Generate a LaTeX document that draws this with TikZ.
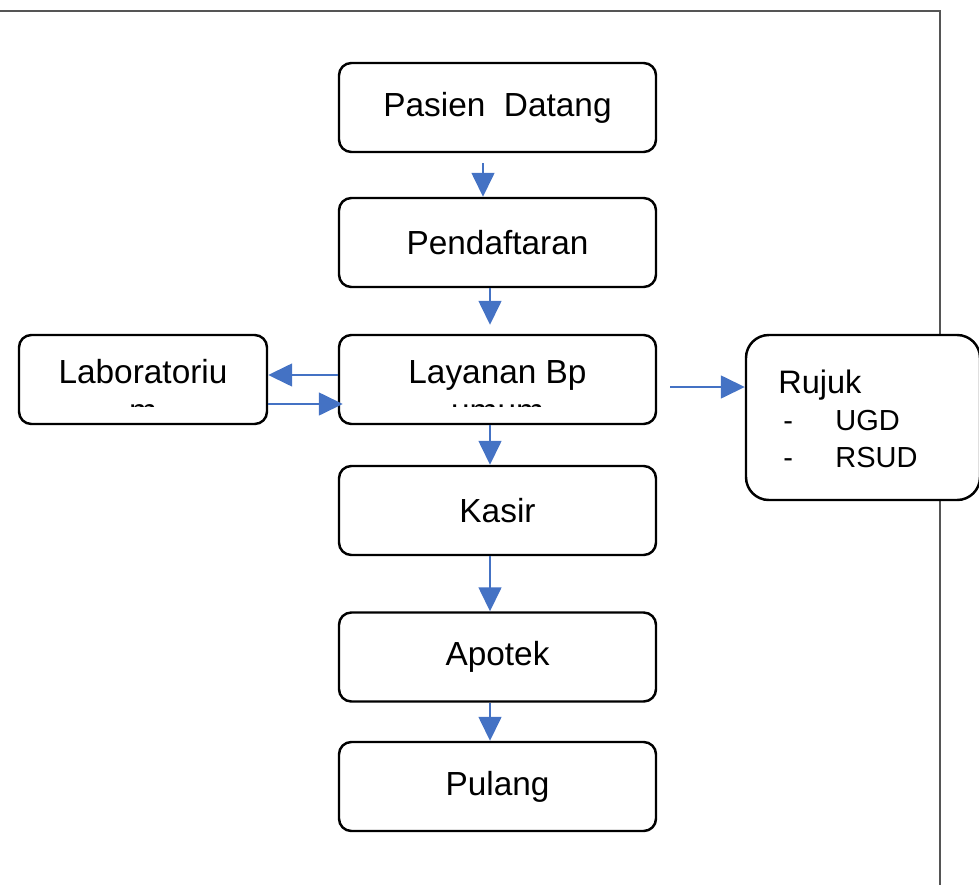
\documentclass[tikz,border=0pt]{standalone}
\usepackage{fontspec}
\setmainfont{Liberation Sans}
\usepackage{tikz}
\usetikzlibrary{arrows.meta}
\usetikzlibrary{calc,positioning}

\definecolor{flowblue}{HTML}{4472C4}
\definecolor{framegray}{HTML}{555555}

\tikzset{
    stepbox/.style={draw,line width=1.4pt,rounded corners=7pt,fill=white,minimum width=6.34cm,minimum height=1.78cm},
    flow/.style={-{Triangle[length=0.48cm,width=0.46cm]},flowblue,line width=0.9pt},
    boxtext/.style={inner sep=0pt,anchor=base}
}

\begin{document}
\begin{tikzpicture}[font=\fontsize{19}{23}\selectfont]
        \useasboundingbox (0,0) rectangle (19.58,-17.7);

        % frame
        \draw [framegray,line width=1.2pt] (0,-0.22) -- (18.8,-0.22) -- (18.8,-17.7);

        % main column
        \node [stepbox] (pasien) at (9.95,-2.15) {Pasien\ \ Datang};
        \node [stepbox] (daftar) at (9.95,-4.85) {Pendaftaran};
        \node [stepbox] (layanan) at (9.95,-7.59) {};
        \node [stepbox] (kasir) at (9.95,-10.21) {Kasir};
        \node [stepbox] (apotek) at (9.95,-13.14) {Apotek};
        \node [stepbox] (pulang) at (9.95,-15.73) {Pulang};

        % side boxes
        \node [stepbox,minimum width=4.96cm] (lab) at (2.86,-7.59) {};
        \node [stepbox,minimum width=4.68cm,minimum height=3.3cm,rounded corners=13pt] (rujuk) at (17.26,-8.35) {};

        % texts cut off at the bottom
        \begin{scope}
            \clip ([yshift=-0.1cm]lab.north west) rectangle ([yshift=0.38cm]lab.south east);
            \node [boxtext] (labtop) at (2.86,-7.66) {Laboratoriu};
            \node [boxtext] (labbot) at (2.86,-8.44) {m};
        \end{scope}
        \begin{scope}
            \clip ([yshift=-0.1cm]layanan.north west) rectangle ([yshift=0.38cm]layanan.south east);
            \node [boxtext] (laytop) at (9.95,-7.66) {Layanan Bp};
            \node [boxtext] (laybot) at (9.95,-8.44) {umum};
        \end{scope}

        \node [boxtext,anchor=base west,font=\fontsize{18.5}{22}\selectfont] (rujuktitle) at (15.56,-7.86) {Rujuk};
        \node [boxtext,anchor=base west,font=\fontsize{16.5}{20}\selectfont] (dasha) at (15.66,-8.6) {-};
        \node [boxtext,anchor=base west,font=\fontsize{16.5}{20}\selectfont] (ugd) at (16.7,-8.6) {UGD};
        \node [boxtext,anchor=base west,font=\fontsize{16.5}{20}\selectfont] (dashb) at (15.66,-9.34) {-};
        \node [boxtext,anchor=base west,font=\fontsize{16.5}{20}\selectfont] (rsud) at (16.7,-9.34) {RSUD};

        % arrows
        \draw [flow] ([xshift=-0.29cm,yshift=-0.2cm]pasien.south) -- ([xshift=-0.29cm]daftar.north);
        \draw [flow] ([xshift=-0.15cm]daftar.south) -- ([xshift=-0.15cm,yshift=0.18cm]layanan.north);
        \draw [flow] ([xshift=-0.15cm]layanan.south) -- ([xshift=-0.15cm]kasir.north);
        \draw [flow] ([xshift=-0.15cm]kasir.south) -- ([xshift=-0.15cm]apotek.north);
        \draw [flow] ([xshift=-0.15cm]apotek.south) -- ([xshift=-0.15cm]pulang.north);

        \draw [flow] ([yshift=0.09cm]layanan.west) -- ([yshift=0.09cm]lab.east);
        \draw [flow] ([yshift=-0.49cm]lab.east) -- ([xshift=0.1cm,yshift=-0.49cm]layanan.west);
        \coordinate (rujukin) at (rujuk.west |- layanan.east);
        \draw [flow] ([xshift=0.26cm,yshift=-0.15cm]layanan.east) -- ([yshift=-0.15cm]rujukin);
\end{tikzpicture}
\end{document}
